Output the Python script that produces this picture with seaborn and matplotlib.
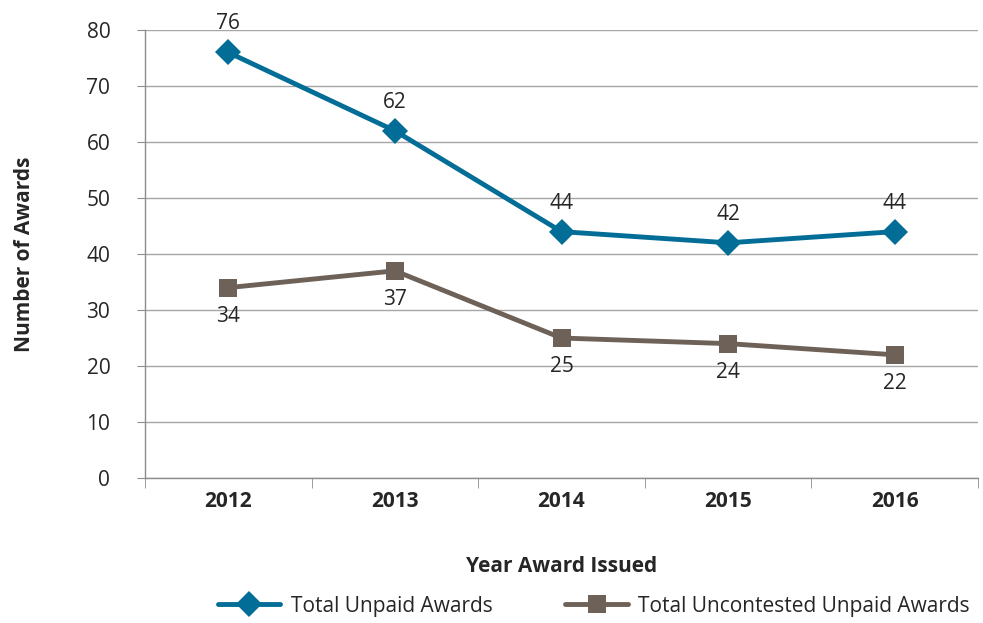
import pandas as pd
import numpy as np
import matplotlib.pyplot as plt
import seaborn as sns
from matplotlib.ticker import FixedLocator

years = ["2012", "2013", "2014", "2015", "2016"]
total_unpaid = [76, 62, 44, 42, 44]
uncontested_unpaid = [34, 37, 25, 24, 22]
series_names = ["Total Unpaid Awards", "Total Uncontested Unpaid Awards"]

df = pd.DataFrame({
    "Year": years * 2,
    "Awards": total_unpaid + uncontested_unpaid,
    "Series": [series_names[0]] * 5 + [series_names[1]] * 5,
})

sns.set_style("white")
plt.rcParams["font.family"] = ["Open Sans", "DejaVu Sans"]

teal = "#026d96"
brown = "#6d6158"
fs = 15

fig = plt.figure(figsize=(9.83, 6.23), dpi=100)
ax = fig.add_axes([0.1475, 0.2327, 0.8475, 0.7191])

sns.lineplot(data=df, x="Year", y="Awards", hue="Series", style="Series",
             palette={series_names[0]: teal, series_names[1]: brown},
             markers={series_names[0]: "D", series_names[1]: "s"},
             dashes=False, linewidth=3.5, markersize=13, markeredgewidth=0,
             ax=ax, legend=False)

# data labels: above for teal, below for brown
for i, (a, b) in enumerate(zip(total_unpaid, uncontested_unpaid)):
    ax.annotate(str(a), (i, a), xytext=(0, 13), textcoords="offset points",
                ha="center", va="bottom", fontsize=fs)
    ax.annotate(str(b), (i, b), xytext=(0, -13), textcoords="offset points",
                ha="center", va="top", fontsize=fs)

ax.set_xlim(-0.5, 4.5)
ax.set_ylim(0, 80)
ax.set_yticks(range(0, 81, 10))
ax.yaxis.grid(True, color="#a6a6a6", linewidth=1)
ax.set_axisbelow(True)

for s in ["top", "right"]:
    ax.spines[s].set_visible(False)
for s in ["left", "bottom"]:
    ax.spines[s].set_color("#8c8c8c")
    ax.spines[s].set_linewidth(1)

ax.tick_params(axis="y", labelsize=fs, length=6, color="#8c8c8c", left=True, pad=19)
ax.tick_params(axis="x", which="major", length=0, labelsize=fs, pad=9)
ax.xaxis.set_minor_locator(FixedLocator(np.arange(-0.5, 5, 1)))
ax.tick_params(axis="x", which="minor", length=7, color="#8c8c8c", bottom=True)
for lab in ax.get_xticklabels():
    lab.set_fontweight("bold")

ax.set_xlabel("Year Award Issued", fontsize=fs, fontweight="bold", labelpad=32)
ax.set_ylabel("Number of Awards", fontsize=fs, fontweight="bold", labelpad=37)

handles = [
    plt.Line2D([], [], color=teal, marker="D", markersize=13, linewidth=3.5, markeredgewidth=0),
    plt.Line2D([], [], color=brown, marker="s", markersize=13, linewidth=3.5, markeredgewidth=0),
]
fig.legend(handles, series_names, loc="center", bbox_to_anchor=(0.604, 0.027),
           ncol=2, frameon=False, fontsize=fs, handlelength=3, handletextpad=0.5,
           columnspacing=3.5)

fig.savefig("out.png", dpi=100)
